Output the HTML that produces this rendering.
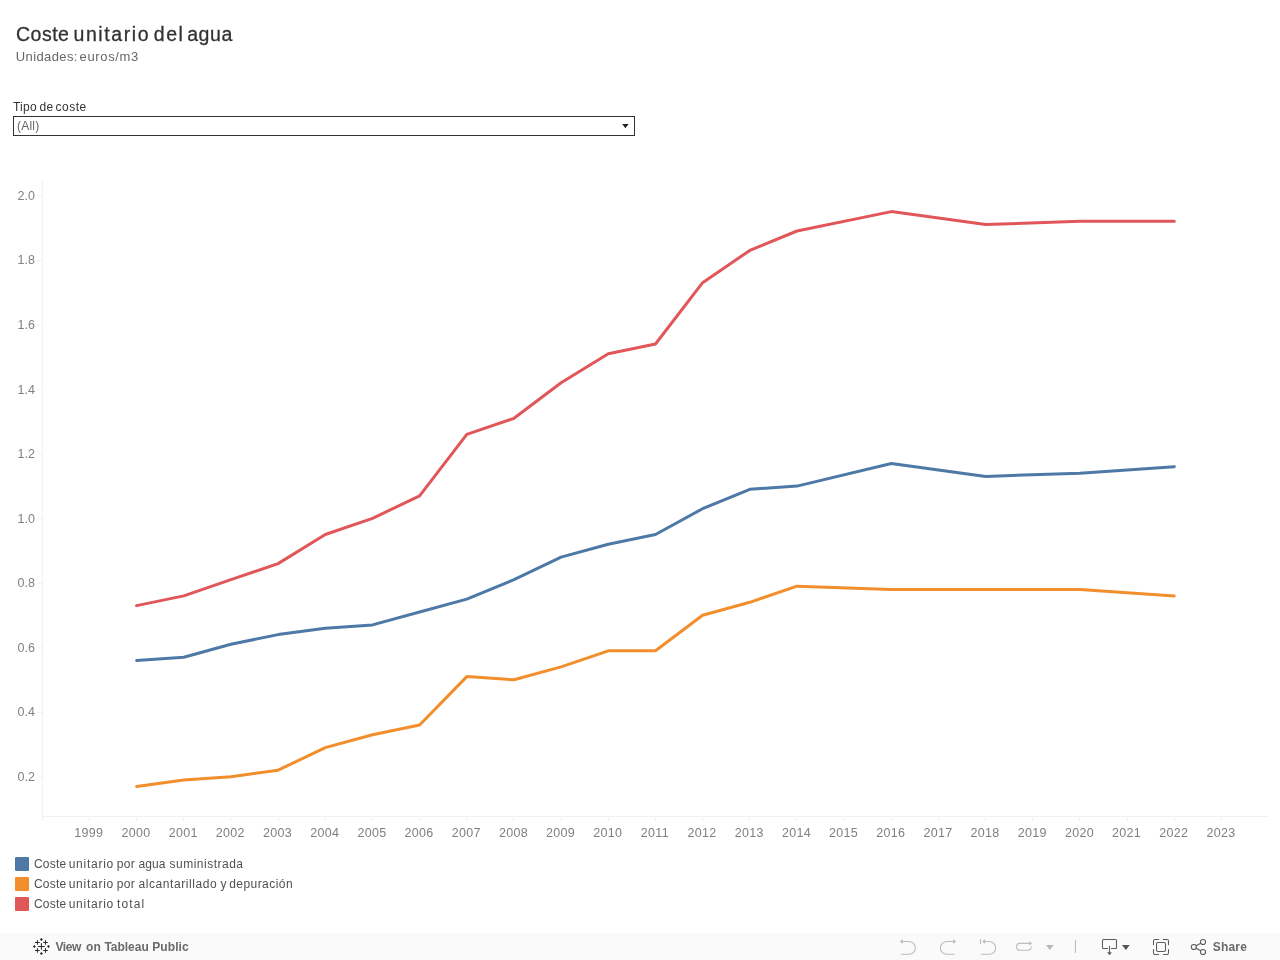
<!DOCTYPE html>
<html><head><meta charset="utf-8"><title>Coste unitario del agua</title>
<style>
html,body{margin:0;padding:0;background:#fff;}
body{width:1280px;height:960px;position:relative;overflow:hidden;font-family:"Liberation Sans",sans-serif;}
div{position:absolute;white-space:nowrap;}
.ln{left:0;width:1280px;height:0;}
.ln span{position:absolute;top:0;white-space:nowrap;}
#wrap{left:0;top:0;width:1280px;height:960px;will-change:transform;background:transparent;}
#sel{left:13px;top:116px;width:620px;height:18px;border:1px solid #333;background:#fff;}
#selt{left:17px;top:118.5px;letter-spacing:0.2px;font-size:12px;line-height:15px;color:#666;}
.yl{left:0;width:35px;text-align:right;font-size:12.5px;line-height:16px;color:#808080;}
.xl{top:825px;width:40px;text-align:center;font-size:12.5px;line-height:16px;color:#808080;letter-spacing:0.3px}
.sw{left:15px;width:14px;height:14px;border-radius:1px;}
#tb{left:0;top:933px;width:1280px;height:27px;background:#fafafa;}
#share{left:1212.7px;letter-spacing:0.2px;top:939px;font-size:12px;line-height:16px;color:#6a6a6a;font-weight:bold;}
</style></head><body><div id="wrap">
<div class="ln " style="top:22px;font-size:19.5px;font-weight:normal;line-height:24px;color:#333;-webkit-text-stroke:0.3px #333;"><span style="left:15.99px;letter-spacing:0.491px">Coste</span><span style="left:73.48px;letter-spacing:1.593px">unitario</span><span style="left:153.79px;letter-spacing:1.536px">del</span><span style="left:187.14px;letter-spacing:0.652px">agua</span></div>
<div class="ln " style="top:49px;font-size:13px;font-weight:normal;line-height:16px;color:#666;"><span style="left:15.75px;letter-spacing:0.386px">Unidades:</span><span style="left:79.59px;letter-spacing:0.649px">euros/m3</span></div>
<div class="ln " style="top:100px;font-size:12px;font-weight:normal;line-height:15px;color:#333;"><span style="left:12.91px;letter-spacing:0.325px">Tipo</span><span style="left:39.42px;letter-spacing:0.414px">de</span><span style="left:55.62px;letter-spacing:0.495px">coste</span></div>
<div id="sel"></div>
<div id="selt">(All)</div>
<svg width="8" height="5" style="position:absolute;left:621.5px;top:124px"><path d="M0.2 0 L6.6 0 L3.4 4.3Z" fill="#222"/></svg>
<svg id="chart" width="1280" height="960" style="position:absolute;left:0;top:0">
<rect x="42" y="181" width="1" height="640" fill="#f1f1f1"/>
<rect x="42" y="816" width="1226" height="1" fill="#f1f1f1"/>
<rect x="37" y="776.5" width="5" height="1" fill="#f1f1f1"/>
<rect x="37" y="711.9" width="5" height="1" fill="#f1f1f1"/>
<rect x="37" y="647.3" width="5" height="1" fill="#f1f1f1"/>
<rect x="37" y="582.8" width="5" height="1" fill="#f1f1f1"/>
<rect x="37" y="518.2" width="5" height="1" fill="#f1f1f1"/>
<rect x="37" y="453.6" width="5" height="1" fill="#f1f1f1"/>
<rect x="37" y="389.0" width="5" height="1" fill="#f1f1f1"/>
<rect x="37" y="324.4" width="5" height="1" fill="#f1f1f1"/>
<rect x="37" y="259.9" width="5" height="1" fill="#f1f1f1"/>
<rect x="37" y="195.3" width="5" height="1" fill="#f1f1f1"/>
<rect x="89" y="817" width="1" height="4" fill="#f1f1f1"/>
<rect x="136" y="817" width="1" height="4" fill="#f1f1f1"/>
<rect x="183" y="817" width="1" height="4" fill="#f1f1f1"/>
<rect x="230" y="817" width="1" height="4" fill="#f1f1f1"/>
<rect x="278" y="817" width="1" height="4" fill="#f1f1f1"/>
<rect x="325" y="817" width="1" height="4" fill="#f1f1f1"/>
<rect x="372" y="817" width="1" height="4" fill="#f1f1f1"/>
<rect x="419" y="817" width="1" height="4" fill="#f1f1f1"/>
<rect x="466" y="817" width="1" height="4" fill="#f1f1f1"/>
<rect x="513" y="817" width="1" height="4" fill="#f1f1f1"/>
<rect x="561" y="817" width="1" height="4" fill="#f1f1f1"/>
<rect x="608" y="817" width="1" height="4" fill="#f1f1f1"/>
<rect x="655" y="817" width="1" height="4" fill="#f1f1f1"/>
<rect x="702" y="817" width="1" height="4" fill="#f1f1f1"/>
<rect x="749" y="817" width="1" height="4" fill="#f1f1f1"/>
<rect x="796" y="817" width="1" height="4" fill="#f1f1f1"/>
<rect x="844" y="817" width="1" height="4" fill="#f1f1f1"/>
<rect x="891" y="817" width="1" height="4" fill="#f1f1f1"/>
<rect x="938" y="817" width="1" height="4" fill="#f1f1f1"/>
<rect x="985" y="817" width="1" height="4" fill="#f1f1f1"/>
<rect x="1032" y="817" width="1" height="4" fill="#f1f1f1"/>
<rect x="1079" y="817" width="1" height="4" fill="#f1f1f1"/>
<rect x="1127" y="817" width="1" height="4" fill="#f1f1f1"/>
<rect x="1174" y="817" width="1" height="4" fill="#f1f1f1"/>
<rect x="1221" y="817" width="1" height="4" fill="#f1f1f1"/>
<path d="M136.6 660.5 L183.8 657.2 L230.9 644.3 L278.1 634.6 L325.3 628.2 L372.5 624.9 L419.6 612.0 L466.8 599.1 L514.0 579.7 L561.1 557.1 L608.3 544.2 L655.5 534.5 L702.6 508.7 L749.8 489.3 L797.0 486.1 L891.3 463.5 L985.7 476.4 L1080.0 473.2 L1174.3 466.7" fill="none" stroke="#4e79a7" stroke-width="3" stroke-linejoin="round" stroke-linecap="round"/>
<path d="M136.6 786.4 L183.8 779.9 L230.9 776.7 L278.1 770.2 L325.3 747.6 L372.5 734.7 L419.6 725.0 L466.8 676.6 L514.0 679.8 L561.1 666.9 L608.3 650.8 L655.5 650.8 L702.6 615.3 L749.8 602.3 L797.0 586.2 L891.3 589.4 L985.7 589.4 L1080.0 589.4 L1174.3 595.9" fill="none" stroke="#f28e2b" stroke-width="3" stroke-linejoin="round" stroke-linecap="round"/>
<path d="M136.6 605.6 L183.8 595.9 L230.9 579.7 L278.1 563.6 L325.3 534.5 L372.5 518.4 L419.6 495.8 L466.8 434.4 L514.0 418.3 L561.1 382.8 L608.3 353.7 L655.5 344.0 L702.6 282.7 L749.8 250.4 L797.0 231.0 L891.3 211.6 L985.7 224.5 L1080.0 221.3 L1174.3 221.3" fill="none" stroke="#e15759" stroke-width="3" stroke-linejoin="round" stroke-linecap="round"/>
</svg>
<div class="yl" style="top:769.0px">0.2</div>
<div class="yl" style="top:704.4px">0.4</div>
<div class="yl" style="top:639.8px">0.6</div>
<div class="yl" style="top:575.3px">0.8</div>
<div class="yl" style="top:510.7px">1.0</div>
<div class="yl" style="top:446.1px">1.2</div>
<div class="yl" style="top:381.5px">1.4</div>
<div class="yl" style="top:316.9px">1.6</div>
<div class="yl" style="top:252.4px">1.8</div>
<div class="yl" style="top:187.8px">2.0</div>
<div class="xl" style="left:68.8px">1999</div>
<div class="xl" style="left:116.0px">2000</div>
<div class="xl" style="left:163.2px">2001</div>
<div class="xl" style="left:210.3px">2002</div>
<div class="xl" style="left:257.5px">2003</div>
<div class="xl" style="left:304.7px">2004</div>
<div class="xl" style="left:351.9px">2005</div>
<div class="xl" style="left:399.0px">2006</div>
<div class="xl" style="left:446.2px">2007</div>
<div class="xl" style="left:493.4px">2008</div>
<div class="xl" style="left:540.5px">2009</div>
<div class="xl" style="left:587.7px">2010</div>
<div class="xl" style="left:634.9px">2011</div>
<div class="xl" style="left:682.0px">2012</div>
<div class="xl" style="left:729.2px">2013</div>
<div class="xl" style="left:776.4px">2014</div>
<div class="xl" style="left:823.6px">2015</div>
<div class="xl" style="left:870.7px">2016</div>
<div class="xl" style="left:917.9px">2017</div>
<div class="xl" style="left:965.1px">2018</div>
<div class="xl" style="left:1012.2px">2019</div>
<div class="xl" style="left:1059.4px">2020</div>
<div class="xl" style="left:1106.6px">2021</div>
<div class="xl" style="left:1153.7px">2022</div>
<div class="xl" style="left:1200.9px">2023</div>
<div class="sw" style="top:857px;background:#4e79a7"></div>
<div class="sw" style="top:877px;background:#f28e2b"></div>
<div class="sw" style="top:897px;background:#e15759"></div>
<div class="ln " style="top:856px;font-size:12px;font-weight:normal;line-height:16px;color:#505050;"><span style="left:34.04px;letter-spacing:0.175px">Coste</span><span style="left:68.65px;letter-spacing:0.747px">unitario</span><span style="left:116.75px;letter-spacing:0.357px">por</span><span style="left:138.38px;letter-spacing:0.151px">agua</span><span style="left:169.56px;letter-spacing:0.494px">suministrada</span></div>
<div class="ln " style="top:876px;font-size:12px;font-weight:normal;line-height:16px;color:#505050;"><span style="left:34.04px;letter-spacing:0.175px">Coste</span><span style="left:68.65px;letter-spacing:0.747px">unitario</span><span style="left:116.75px;letter-spacing:0.357px">por</span><span style="left:138.38px;letter-spacing:0.588px">alcantarillado</span><span style="left:220.4px;letter-spacing:0px">y</span><span style="left:229.22px;letter-spacing:0.441px">depuración</span></div>
<div class="ln " style="top:896px;font-size:12px;font-weight:normal;line-height:16px;color:#505050;"><span style="left:34.04px;letter-spacing:0.175px">Coste</span><span style="left:68.65px;letter-spacing:0.747px">unitario</span><span style="left:117.1px;letter-spacing:1.127px">total</span></div>
<div id="tb"></div>
<div class="ln " style="top:939.4px;font-size:12px;font-weight:bold;line-height:16px;color:#6a6a6a;"><span style="left:55.4px;letter-spacing:-0.357px">View</span><span style="left:86.03px;letter-spacing:0.095px">on</span><span style="left:104.4px;letter-spacing:-0.015px">Tableau</span><span style="left:152.15px;letter-spacing:0.109px">Public</span></div>
<div id="share">Share</div>
<svg width="1280" height="27" viewBox="0 933 1280 27" style="position:absolute;left:0;top:933px">
<g stroke="#2b2b2b" stroke-width="1.05" stroke-linecap="round" fill="none">
<path d="M38.4 946.4H44.4M41.4 943.5V949.3"/>
<path d="M35.45 942.4H39.35M37.4 940.5V944.3M43.55 942.4H47.45M45.5 940.5V944.3M35.45 950.4H39.35M37.4 948.5V952.3M43.55 950.4H47.45M45.5 948.5V952.3"/>
</g>
<g fill="#2b2b2b">
<path d="M41.4 937.9L42.9 939.4L41.4 940.9L39.9 939.4Z"/>
<path d="M41.4 952.1L42.9 953.6L41.4 955.1L39.9 953.6Z"/>
<path d="M34.4 944.9L35.9 946.4L34.4 947.9L32.9 946.4Z"/>
<path d="M48.5 944.9L50 946.4L48.5 947.9L47 946.4Z"/>
</g>
<g stroke="#bdbdbd" stroke-width="1.1" fill="none" stroke-linecap="butt" stroke-linejoin="round">
<path d="M902 941.5H909A6.4 6.4 0 0 1 909 954.3H901"/>
<path d="M954 941.5H946.8A6.4 6.4 0 0 0 946.8 954.3H954.9"/>
<path d="M980.5 939.1V943.9M984.5 941.5H989.3A6.4 6.4 0 0 1 989.3 954.3H981"/>
<path d="M1030 943.4H1019.9A3.45 3.45 0 0 0 1019.9 950.3H1027.9A3.45 3.45 0 0 0 1031.3 946.4"/>
</g>
<g fill="#bdbdbd">
<path d="M899.8 941.5L902.9 939.1V943.9Z"/>
<path d="M956.2 941.5L953.1 939.1V943.9Z"/>
<path d="M982.1 941.5L985.2 939.1V943.9Z"/>
<path d="M1032 943.4L1029.2 941.1V945.7Z"/>
</g>
<path d="M1046 944.9H1053.6L1049.8 949.9Z" fill="#b9b9b9"/>
<rect x="1074.9" y="940" width="1.1" height="13" fill="#bdbdbd"/>
<g stroke="#5c5c5c" stroke-width="1.05" fill="none" stroke-linecap="round" stroke-linejoin="round">
<path d="M1107.6 948.5H1103.5A1 1 0 0 1 1102.5 947.5V940.5A1 1 0 0 1 1103.5 939.5H1115.5A1 1 0 0 1 1116.5 940.5V947.5A1 1 0 0 1 1115.5 948.5H1111.4M1109.5 946.2V952.5"/>
<path d="M1153.5 944.6V941A1.5 1.5 0 0 1 1155 939.5H1158.6M1163.4 939.5H1167A1.5 1.5 0 0 1 1168.5 941V944.6M1168.5 949.4V953A1.5 1.5 0 0 1 1167 954.5H1163.4M1158.6 954.5H1155A1.5 1.5 0 0 1 1153.5 953V949.4"/>
<rect x="1156.5" y="942.5" width="9" height="9" rx="1.5"/>
<circle cx="1203" cy="942" r="2.55"/><circle cx="1193.8" cy="947" r="2.55"/><circle cx="1203" cy="952" r="2.55"/>
<path d="M1196.1 945.8L1200.7 943.2M1196.1 948.2L1200.7 950.8"/>
</g>
<path d="M1107.1 952.2H1111.9L1109.5 955.2Z" fill="#5c5c5c"/>
<path d="M1122 944.9H1129.7L1125.85 949.9Z" fill="#555"/>
</svg>

</div></body></html>
